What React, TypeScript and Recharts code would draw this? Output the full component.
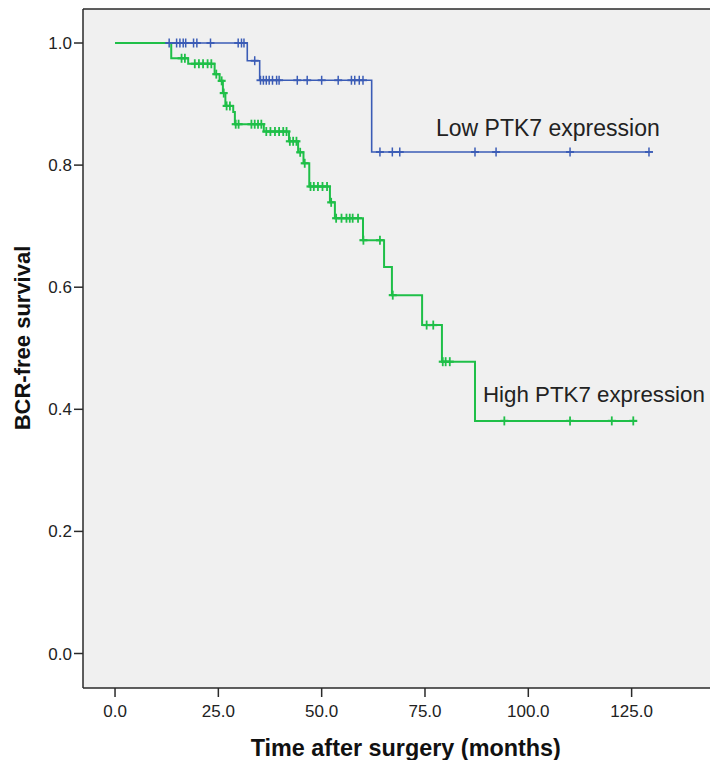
import React from 'react';
import { ComposedChart, Line, XAxis, YAxis, CartesianGrid, ReferenceLine } from 'recharts';

type Pt = { t: number; s: number; c: boolean };

// Low PTK7 expression (blue): event times / survival levels / censor flags
const lowTimes = [0, 13.1, 14.9, 15.7, 16.5, 17.1, 19.0, 19.8, 23.1, 29.8, 30.6, 31.2, 32.0, 33.8, 35.0, 35.2, 35.9, 36.6, 37.3, 38.1, 39.1, 39.7, 44.1, 46.5, 50.0, 54.0, 57.2, 58.0, 59.1, 60.0, 62.1, 64.1, 67.1, 68.9, 87.1, 92.2, 110.1, 129.2];
const lowSurv = [1.0, 1.0, 1.0, 1.0, 1.0, 1.0, 1.0, 1.0, 1.0, 1.0, 1.0, 1.0, 0.971, 0.971, 0.939, 0.939, 0.939, 0.939, 0.939, 0.939, 0.939, 0.939, 0.939, 0.939, 0.939, 0.939, 0.939, 0.939, 0.939, 0.939, 0.8215, 0.8215, 0.8215, 0.8215, 0.8215, 0.8215, 0.8215, 0.8215];
const lowCens = [0, 1, 1, 1, 1, 1, 1, 1, 1, 1, 1, 1, 0, 1, 0, 1, 1, 1, 1, 1, 1, 1, 1, 1, 1, 1, 1, 1, 1, 1, 0, 1, 1, 1, 1, 1, 1, 1];

// High PTK7 expression (green)
const highTimes = [0, 13.6, 16.1, 16.9, 17.7, 19.3, 20.3, 21.3, 22.4, 23.3, 24.1, 24.5, 25.3, 25.8, 26.1, 26.3, 26.7, 27.0, 27.8, 28.6, 29.0, 29.2, 29.9, 33.0, 33.8, 34.6, 35.4, 36.0, 36.6, 37.6, 38.7, 39.7, 40.7, 41.5, 42.1, 42.3, 43.1, 43.9, 44.3, 44.8, 45.6, 45.9, 47.0, 47.3, 48.1, 49.1, 50.2, 51.3, 52.0, 52.3, 53.2, 53.5, 54.8, 56.0, 56.8, 57.5, 58.8, 60.0, 60.1, 64.1, 65.1, 67.0, 67.2, 74.3, 75.4, 77.0, 79.1, 79.3, 80.0, 81.0, 87.1, 94.2, 110.1, 120.2, 125.4];
const highSurv = [1.0, 0.975, 0.975, 0.975, 0.966, 0.966, 0.966, 0.966, 0.966, 0.966, 0.949, 0.949, 0.938, 0.938, 0.918, 0.918, 0.897, 0.897, 0.897, 0.887, 0.867, 0.867, 0.867, 0.867, 0.867, 0.867, 0.867, 0.855, 0.855, 0.855, 0.855, 0.855, 0.855, 0.855, 0.839, 0.839, 0.839, 0.839, 0.821, 0.821, 0.803, 0.803, 0.765, 0.765, 0.765, 0.765, 0.765, 0.765, 0.739, 0.739, 0.713, 0.713, 0.713, 0.713, 0.713, 0.713, 0.713, 0.677, 0.677, 0.677, 0.633, 0.587, 0.587, 0.538, 0.538, 0.538, 0.478, 0.478, 0.478, 0.478, 0.381, 0.381, 0.381, 0.381, 0.381];
const highCens = [0, 0, 1, 1, 0, 1, 1, 1, 1, 1, 0, 1, 0, 1, 0, 1, 0, 1, 1, 0, 0, 1, 1, 1, 1, 1, 1, 0, 1, 1, 1, 1, 1, 1, 0, 1, 1, 1, 0, 1, 0, 1, 0, 1, 1, 1, 1, 1, 0, 1, 0, 1, 1, 1, 1, 1, 1, 0, 1, 1, 0, 0, 1, 0, 1, 1, 0, 1, 1, 1, 0, 1, 1, 1, 1];

const xTicks = [0, 25, 50, 75, 100, 125];
const yTicks = [0, 0.2, 0.4, 0.6, 0.8, 1.0];
const xDomain: [number, number] = [-7.75, 145.9];
const yDomain: [number, number] = [-0.0565, 1.0557];

const build = (t: number[], s: number[], c: number[]): Pt[] =>
  t.map((v, i) => ({ t: v, s: s[i], c: c[i] === 1 }));

const lowData = build(lowTimes, lowSurv, lowCens);
const highData = build(highTimes, highSurv, highCens);

const BLUE = '#3b5cb6';
const GREEN = '#1fbf48';
const FONT = '"Liberation Sans", Arial, sans-serif';

const censorDot = (color: string, w: number) => (props: any) => {
  const { cx, cy, payload, index } = props;
  if (!payload || !payload.c || cx == null || cy == null) return <g key={`d${index}`} />;
  return (
    <g key={`d${index}`}>
      <line x1={cx} y1={cy - 4.5} x2={cx} y2={cy + 4.5} stroke={color} strokeWidth={w} />
      <line x1={cx - 4} y1={cy} x2={cx + 4} y2={cy} stroke={color} strokeWidth={w + 0.4} />
    </g>
  );
};

export default function App() {
  return (
    <div style={{ width: 710, height: 752 }}>
      <style>{'html, body { overflow: hidden; }'}</style>
      <ComposedChart width={710} height={752} margin={{ top: 1, right: 0, bottom: 0, left: 0 }}>
        <CartesianGrid fill="#f0f0f0" horizontal={false} vertical={false} />
        <XAxis
          type="number"
          dataKey="t"
          domain={xDomain}
          ticks={xTicks}
          allowDataOverflow
          allowDuplicatedCategory={false}
          height={72}
          tickSize={9}
          tickMargin={8}
          tickFormatter={(v: number) => v.toFixed(1)}
          stroke="#2a2a2a"
          strokeWidth={1.5}
          tick={{ fill: '#222', fontSize: 17, fontFamily: FONT }}
        />
        <YAxis
          type="number"
          dataKey="s"
          domain={yDomain}
          ticks={yTicks}
          allowDataOverflow
          width={75}
          tickSize={9}
          tickMargin={2}
          tickFormatter={(v: number) => v.toFixed(1)}
          stroke="#2a2a2a"
          strokeWidth={1.5}
          tick={{ fill: '#222', fontSize: 17, fontFamily: FONT }}
        />
        <ReferenceLine y={yDomain[1]} stroke="#2a2a2a" strokeWidth={1.5} ifOverflow="visible" />
        <Line
          data={lowData}
          dataKey="s"
          type="stepAfter"
          stroke={BLUE}
          strokeWidth={1.6}
          dot={censorDot(BLUE, 1.5)}
          activeDot={false}
          isAnimationActive={false}
        />
        <Line
          data={highData}
          dataKey="s"
          type="stepAfter"
          stroke={GREEN}
          strokeWidth={2}
          dot={censorDot(GREEN, 1.8)}
          activeDot={false}
          isAnimationActive={false}
        />
        <text x={428} y={128} fontSize={23} fontFamily={FONT} fill="#222">Low PTK7 expression</text>
        <text x={475} y={393.7} fontSize={22.3} fontFamily={FONT} fill="#222">High PTK7 expression</text>
        <text x={397.8} y={748} fontSize={23.4} fontWeight="bold" fontFamily={FONT} fill="#111" textAnchor="middle">Time after surgery (months)</text>
        <text x={14} y={330} fontSize={22} fontWeight="bold" fontFamily={FONT} fill="#111" textAnchor="middle" dominantBaseline="central" transform="rotate(-90 14 330)">BCR-free survival</text>
      </ComposedChart>
    </div>
  );
}
